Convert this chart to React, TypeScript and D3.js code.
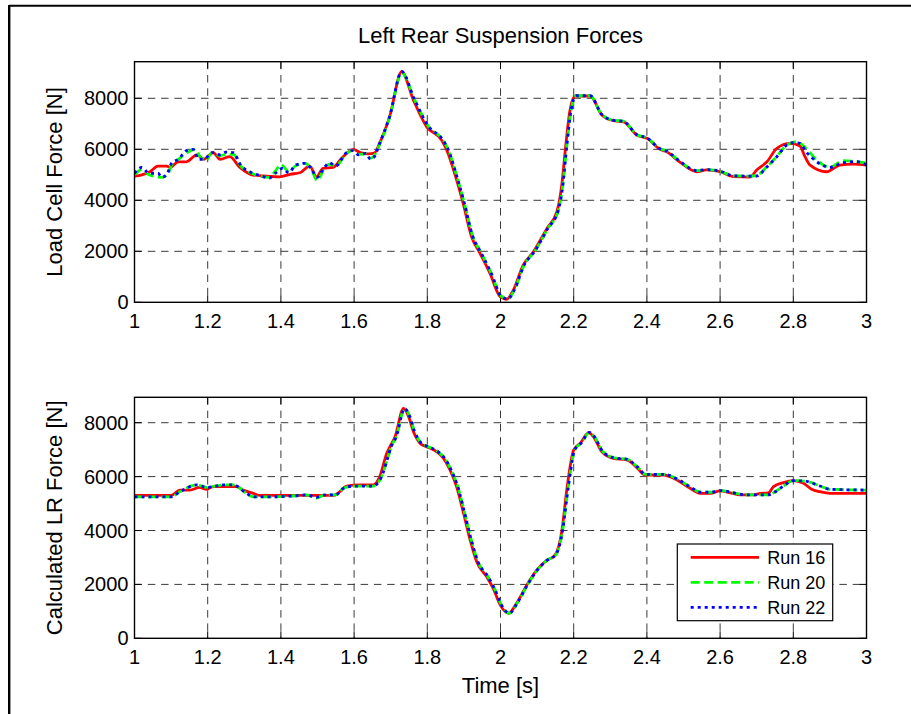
import React from 'react';
import * as d3 from 'd3';

const WIDTH = 911;
const HEIGHT = 714;

const xTicks = [1, 1.2, 1.4, 1.6, 1.8, 2, 2.2, 2.4, 2.6, 2.8, 3];
const xTickLabels = ['1', '1.2', '1.4', '1.6', '1.8', '2', '2.2', '2.4', '2.6', '2.8', '3'];
const yTicks = [0, 2000, 4000, 6000, 8000];
const yTickLabels = ['0', '2000', '4000', '6000', '8000'];

const seriesNames = ['Run 16', 'Run 20', 'Run 22'];

// ---------- Top plot: Load Cell Force ----------
const topRun16T = [1.0, 1.02, 1.042, 1.064, 1.088, 1.097, 1.12, 1.142, 1.17, 1.19, 1.215, 1.234, 1.26, 1.288, 1.324, 1.361, 1.397, 1.425, 1.452, 1.479, 1.497, 1.515, 1.543, 1.566, 1.598, 1.617, 1.64, 1.655, 1.67, 1.697, 1.73, 1.762, 1.798, 1.839, 1.853, 1.88, 1.898, 1.921, 1.944, 1.971, 1.999, 2.017, 2.035, 2.062, 2.09, 2.127, 2.154, 2.168, 2.177, 2.19, 2.204, 2.245, 2.277, 2.308, 2.336, 2.372, 2.4, 2.436, 2.454, 2.49, 2.536, 2.563, 2.6, 2.637, 2.682, 2.7, 2.728, 2.755, 2.791, 2.818, 2.832, 2.846, 2.891, 2.927, 2.964, 3.0];
const topRun16V = [4950, 5000, 5120, 5340, 5340, 5290, 5510, 5510, 5780, 5610, 5870, 5610, 5710, 5290, 4990, 4950, 4920, 5020, 5080, 5340, 4920, 5250, 5290, 5650, 6000, 5870, 5820, 5850, 6250, 7280, 9040, 7930, 6890, 6360, 5970, 4800, 3880, 2570, 1920, 1140, 220, 120, 480, 1460, 1980, 2900, 3550, 4670, 5970, 7540, 8090, 8090, 7340, 7120, 7080, 6560, 6430, 6000, 5900, 5500, 5120, 5190, 5120, 4925, 4910, 5190, 5510, 6040, 6230, 6130, 5710, 5380, 5120, 5380, 5420, 5380];

const topRun20T = [1.0, 1.02, 1.04, 1.06, 1.075, 1.09, 1.102, 1.12, 1.142, 1.165, 1.18, 1.195, 1.212, 1.234, 1.25, 1.27, 1.29, 1.32, 1.348, 1.367, 1.385, 1.4, 1.422, 1.44, 1.467, 1.485, 1.499, 1.517, 1.532, 1.55, 1.577, 1.595, 1.613, 1.632, 1.645, 1.655, 1.67, 1.697, 1.73, 1.765, 1.803, 1.842, 1.857, 1.883, 1.901, 1.924, 1.947, 1.974, 2.002, 2.02, 2.038, 2.065, 2.093, 2.13, 2.157, 2.171, 2.18, 2.193, 2.207, 2.245, 2.277, 2.308, 2.336, 2.372, 2.4, 2.436, 2.454, 2.49, 2.536, 2.563, 2.6, 2.637, 2.682, 2.7, 2.727, 2.755, 2.782, 2.809, 2.835, 2.864, 2.9, 2.937, 2.973, 3.0];
const topRun20V = [5000, 5200, 5000, 4930, 4900, 5000, 5400, 5610, 5850, 6000, 5700, 5560, 5870, 5750, 5800, 5800, 5350, 5060, 4930, 4900, 5150, 5400, 5120, 5350, 5450, 5150, 4770, 5200, 5420, 5345, 5800, 5960, 5800, 5820, 5650, 5750, 6200, 7250, 9000, 7950, 6900, 6380, 5990, 4820, 3900, 2590, 1940, 1160, 240, 130, 490, 1470, 1990, 2910, 3560, 4680, 5980, 7550, 8100, 8100, 7360, 7140, 7100, 6580, 6450, 6020, 5930, 5530, 5160, 5200, 5140, 4960, 4950, 4980, 5300, 5720, 6170, 6300, 6040, 5580, 5300, 5554, 5520, 5460];

const topRun22T = [1.0, 1.02, 1.04, 1.053, 1.064, 1.075, 1.09, 1.102, 1.12, 1.142, 1.16, 1.175, 1.19, 1.212, 1.234, 1.25, 1.27, 1.29, 1.32, 1.348, 1.367, 1.385, 1.404, 1.422, 1.44, 1.467, 1.485, 1.499, 1.517, 1.532, 1.55, 1.577, 1.595, 1.613, 1.632, 1.645, 1.655, 1.67, 1.697, 1.73, 1.765, 1.803, 1.842, 1.857, 1.883, 1.901, 1.924, 1.947, 1.974, 2.002, 2.02, 2.038, 2.065, 2.093, 2.13, 2.157, 2.171, 2.18, 2.193, 2.207, 2.245, 2.277, 2.308, 2.336, 2.372, 2.4, 2.436, 2.454, 2.49, 2.536, 2.563, 2.6, 2.637, 2.682, 2.7, 2.727, 2.755, 2.782, 2.8, 2.818, 2.835, 2.864, 2.9, 2.937, 2.973, 3.0];
const topRun22V = [5060, 5290, 5060, 5060, 5060, 4900, 5060, 5470, 5610, 5950, 6000, 5610, 5610, 5870, 5780, 5890, 5870, 5385, 5080, 4950, 4860, 5060, 5250, 5080, 5385, 5450, 5190, 4900, 5250, 5470, 5345, 5840, 5945, 5780, 5840, 5610, 5700, 6235, 7280, 9050, 7950, 6900, 6380, 5990, 4820, 3900, 2590, 1940, 1160, 240, 130, 490, 1470, 1990, 2910, 3560, 4680, 5980, 7550, 8100, 8100, 7360, 7140, 7100, 6580, 6450, 6020, 5930, 5530, 5160, 5200, 5140, 4960, 4950, 4953, 5294, 5710, 6169, 6260, 6235, 5906, 5514, 5294, 5475, 5514, 5384];

// ---------- Bottom plot: Calculated LR Force ----------
const botRun16T = [1.0, 1.1, 1.124, 1.151, 1.178, 1.197, 1.215, 1.251, 1.279, 1.297, 1.324, 1.343, 1.4, 1.45, 1.5, 1.543, 1.561, 1.579, 1.616, 1.652, 1.67, 1.689, 1.698, 1.712, 1.735, 1.749, 1.762, 1.78, 1.798, 1.826, 1.844, 1.862, 1.88, 1.899, 1.917, 1.935, 1.962, 1.98, 1.999, 2.022, 2.044, 2.072, 2.099, 2.127, 2.149, 2.168, 2.181, 2.2, 2.218, 2.241, 2.254, 2.277, 2.308, 2.345, 2.372, 2.395, 2.446, 2.482, 2.518, 2.545, 2.573, 2.6, 2.628, 2.655, 2.691, 2.71, 2.732, 2.746, 2.773, 2.8, 2.828, 2.85, 2.873, 2.9, 3.0];
const botRun16V = [5300, 5300, 5500, 5500, 5600, 5530, 5630, 5630, 5630, 5500, 5380, 5300, 5300, 5300, 5300, 5300, 5440, 5650, 5690, 5690, 6000, 6860, 7110, 7480, 8530, 8220, 7670, 7240, 7110, 6920, 6680, 6245, 5630, 4640, 3650, 2840, 2290, 1855, 1240, 930, 1300, 1980, 2530, 2900, 3090, 4020, 5500, 6990, 7240, 7630, 7480, 6920, 6680, 6620, 6345, 6060, 6060, 5875, 5570, 5380, 5380, 5470, 5400, 5320, 5320, 5380, 5400, 5630, 5780, 5850, 5750, 5530, 5440, 5380, 5380];

const botRun20T = [1.0, 1.1, 1.124, 1.17, 1.197, 1.243, 1.27, 1.306, 1.324, 1.38, 1.44, 1.47, 1.497, 1.52, 1.55, 1.57, 1.6, 1.652, 1.675, 1.692, 1.701, 1.715, 1.738, 1.752, 1.765, 1.783, 1.801, 1.829, 1.847, 1.865, 1.883, 1.902, 1.92, 1.938, 1.965, 1.983, 2.002, 2.024, 2.046, 2.074, 2.101, 2.129, 2.151, 2.17, 2.184, 2.203, 2.221, 2.243, 2.256, 2.279, 2.31, 2.347, 2.374, 2.397, 2.448, 2.484, 2.52, 2.547, 2.575, 2.602, 2.63, 2.657, 2.691, 2.73, 2.746, 2.773, 2.8, 2.837, 2.873, 2.9, 3.0];
const botRun20V = [5250, 5250, 5440, 5690, 5600, 5690, 5690, 5380, 5250, 5250, 5290, 5320, 5200, 5320, 5320, 5560, 5650, 5650, 6000, 6700, 7100, 7470, 8530, 8230, 7680, 7250, 7120, 6930, 6690, 6250, 5640, 4650, 3660, 2850, 2300, 1860, 1250, 930, 1310, 1990, 2540, 2910, 3100, 4030, 5510, 7000, 7250, 7640, 7490, 6940, 6700, 6640, 6360, 6080, 6080, 5900, 5600, 5420, 5420, 5480, 5420, 5340, 5320, 5320, 5400, 5650, 5850, 5820, 5650, 5530, 5500];

const botRun22T = [1.0, 1.1, 1.124, 1.17, 1.197, 1.243, 1.27, 1.306, 1.324, 1.38, 1.44, 1.47, 1.497, 1.52, 1.55, 1.57, 1.6, 1.652, 1.675, 1.692, 1.701, 1.715, 1.738, 1.752, 1.765, 1.783, 1.801, 1.829, 1.847, 1.865, 1.883, 1.902, 1.92, 1.938, 1.965, 1.983, 2.002, 2.024, 2.046, 2.074, 2.101, 2.129, 2.151, 2.17, 2.184, 2.203, 2.221, 2.243, 2.256, 2.279, 2.31, 2.347, 2.374, 2.397, 2.448, 2.484, 2.52, 2.547, 2.575, 2.602, 2.63, 2.657, 2.691, 2.73, 2.746, 2.773, 2.8, 2.837, 2.873, 2.9, 3.0];
const botRun22V = [5250, 5250, 5440, 5690, 5600, 5690, 5690, 5380, 5250, 5250, 5290, 5320, 5230, 5320, 5320, 5560, 5650, 5650, 6000, 6700, 7100, 7470, 8530, 8230, 7680, 7250, 7120, 6930, 6690, 6250, 5640, 4650, 3660, 2850, 2300, 1860, 1250, 930, 1310, 1990, 2540, 2910, 3100, 4030, 5510, 7000, 7250, 7640, 7490, 6940, 6700, 6640, 6360, 6080, 6080, 5900, 5600, 5420, 5420, 5480, 5420, 5340, 5320, 5320, 5400, 5650, 5850, 5820, 5650, 5530, 5500];

const FONT = '"Liberation Sans", Arial, Helvetica, sans-serif';
const COLORS = ['#ff0000', '#00ff00', '#0000ff'];
const DASHES = ['none', '9,4.5', '3,4'];
const LW = 2.8;

type Series = { t: number[]; v: number[] };

function zip(s: Series): [number, number][] {
  return s.t.map((t, i) => [t, s.v[i]] as [number, number]);
}

function Plot(props: {
  id: string;
  left: number; right: number; top: number; bottom: number;
  yMax: number;
  series: Series[];
  yLabel: string;
  showLegend?: boolean;
}) {
  const { id, left, right, top, bottom, yMax, series, yLabel, showLegend } = props;
  const x = d3.scaleLinear().domain([1, 3]).range([left, right]);
  const y = d3.scaleLinear().domain([0, yMax]).range([bottom, top]);
  const line = d3.line<[number, number]>()
    .x(d => x(d[0]))
    .y(d => y(d[1]))
    .curve(d3.curveMonotoneX);
  const tickLen = 7;
  const gridColor = '#3a3a3a';
  const gridDash = '7.5,5.8';

  return (
    <g>
      <defs>
        <clipPath id={id}>
          <rect x={left} y={top} width={right - left} height={bottom - top} />
        </clipPath>
      </defs>
      <rect x={left} y={top} width={right - left} height={bottom - top} fill="#fff" />
      {xTicks.slice(1, -1).map((t, i) => (
        <line key={'gx' + i} x1={x(t)} x2={x(t)} y1={top} y2={bottom}
          stroke={gridColor} strokeWidth={1} strokeDasharray={gridDash} />
      ))}
      {yTicks.slice(1).map((v, i) => (
        <line key={'gy' + i} x1={left} x2={right} y1={y(v)} y2={y(v)}
          stroke={gridColor} strokeWidth={1} strokeDasharray={gridDash} />
      ))}
      {xTicks.map((t, i) => (
        <g key={'tx' + i}>
          <line x1={x(t)} x2={x(t)} y1={bottom} y2={bottom - tickLen} stroke="#000" strokeWidth={1} />
          <line x1={x(t)} x2={x(t)} y1={top} y2={top + tickLen} stroke="#000" strokeWidth={1} />
          <text x={x(t)} y={bottom + 25.7} textAnchor="middle" fontSize={20} fontFamily={FONT} fill="#000">
            {xTickLabels[i]}
          </text>
        </g>
      ))}
      {yTicks.map((v, i) => (
        <g key={'ty' + i}>
          <line x1={left} x2={left + tickLen} y1={y(v)} y2={y(v)} stroke="#000" strokeWidth={1} />
          <line x1={right} x2={right - tickLen} y1={y(v)} y2={y(v)} stroke="#000" strokeWidth={1} />
          <text x={left - 6} y={y(v) + 7} textAnchor="end" fontSize={20} fontFamily={FONT} fill="#000">
            {yTickLabels[i]}
          </text>
        </g>
      ))}
      <g clipPath={`url(#${id})`}>
        {series.map((s, i) => (
          <path key={'s' + i} d={line(zip(s)) || ''} fill="none" stroke={COLORS[i]}
            strokeWidth={LW} strokeDasharray={DASHES[i]} strokeLinejoin="round" />
        ))}
      </g>
      <rect x={left} y={top} width={right - left} height={bottom - top} fill="none" stroke="#000" strokeWidth={1.4} />
      <text transform={`translate(62, ${(top + bottom) / 2}) rotate(-90)`} textAnchor="middle"
        fontSize={22} fontFamily={FONT} fill="#000">{yLabel}</text>
      {showLegend && (
        <g>
          <rect x={677.3} y={544} width={155.4} height={76.7} fill="#fff" stroke="#000" strokeWidth={1.2} />
          {seriesNames.map((n, i) => {
            const ly = 557.3 + i * 25;
            return (
              <g key={'lg' + i}>
                <line x1={690.7} x2={759} y1={ly} y2={ly} stroke={COLORS[i]} strokeWidth={LW}
                  strokeDasharray={DASHES[i]} />
                <text x={767.3} y={ly + 6.5} fontSize={18} fontFamily={FONT} fill="#000">{n}</text>
              </g>
            );
          })}
        </g>
      )}
    </g>
  );
}

export default function App() {
  const topSeries: Series[] = [
    { t: topRun16T, v: topRun16V },
    { t: topRun20T, v: topRun20V },
    { t: topRun22T, v: topRun22V },
  ];
  const botSeries: Series[] = [
    { t: botRun16T, v: botRun16V },
    { t: botRun20T, v: botRun20V },
    { t: botRun22T, v: botRun22V },
  ];
  return (
    <svg width={WIDTH} height={HEIGHT} viewBox={`0 0 ${WIDTH} ${HEIGHT}`}
      style={{ position: 'absolute', left: 0, top: 0, background: '#fff' }}>
      <rect x={0} y={0} width={WIDTH} height={HEIGHT} fill="#fff" />
      <line x1={9} x2={WIDTH} y1={5.8} y2={5.8} stroke="#000" strokeWidth={2} />
      <line x1={9.2} x2={9.2} y1={5} y2={HEIGHT} stroke="#000" strokeWidth={2.4} />
      <text x={500.5} y={43} textAnchor="middle" fontSize={22} fontFamily={FONT} fill="#000">
        Left Rear Suspension Forces
      </text>
      <Plot id="clipTop" left={134.5} right={866.5} top={61.7} bottom={302.3} yMax={9435}
        series={topSeries} yLabel="Load Cell Force [N]" />
      <Plot id="clipBot" left={134.5} right={866.5} top={397.3} bottom={638.3} yMax={8943}
        series={botSeries} yLabel="Calculated LR Force [N]" showLegend />
      <text x={500.5} y={693} textAnchor="middle" fontSize={22} fontFamily={FONT} fill="#000">
        Time [s]
      </text>
    </svg>
  );
}
